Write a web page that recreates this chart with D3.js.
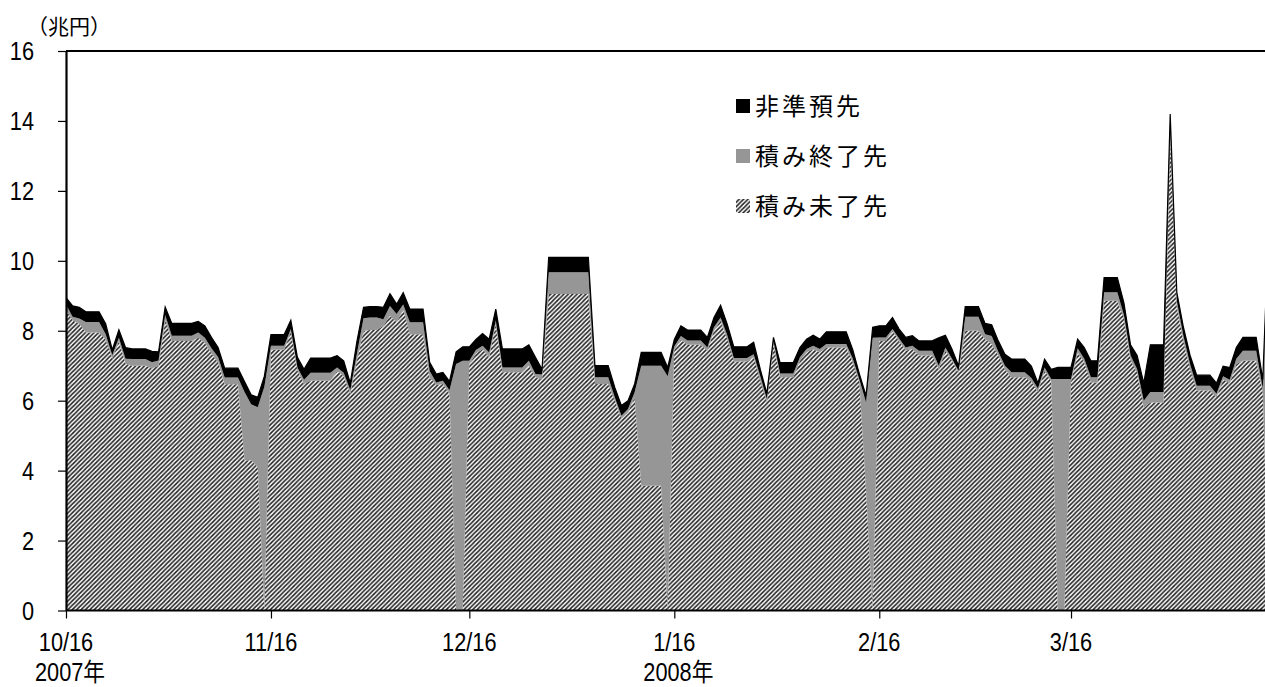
<!DOCTYPE html>
<html>
<head>
<meta charset="utf-8">
<script src="https://cdn.jsdelivr.net/npm/d3@7"></script>
<style>
  body { margin: 0; background: #fff; }
  svg { display: block; }
  text { font-family: "Noto Sans CJK JP", "Noto Sans", sans-serif; fill: #000; }
  text.num { font-family: "Liberation Sans", "Noto Sans CJK JP", sans-serif; }
</style>
</head>
<body>
<svg id="chart" width="1265" height="687"></svg>
<script>
// Daily reserve balances by type of institution (trillion yen), 2007/10/16 - 2008/4/15
const startDate = "2007-10-16";
const endDate = "2008-04-15";

// 積み未了先 : institutions that have not yet met their reserve requirement
const mikanryo = [
  8.6, 8.3, 8.2, 7.95, 7.95, 7.95, 7.75, 7.2, 7.7, 7.06,
  7.0, 7.0, 7.0, 6.92, 7.0, 8.3, 7.71, 7.71, 7.71, 7.71,
  7.8, 7.65, 7.35, 7.1, 6.47, 6.47, 6.47, 4.3, 4.3, 4.1,
  0, 7.46, 7.46, 7.46, 7.98, 6.86, 6.48, 6.57, 6.57, 6.57,
  6.57, 6.85, 6.7, 6.2, 7.15, 7.99, 8.02, 8.02, 8.14, 8.43,
  8.24, 8.6, 7.9, 7.9, 7.9, 6.65, 6.45, 6.48, 6.2, 0,
  0, 7.05, 7.35, 7.48, 7.24, 8.19, 6.81, 6.81, 6.81, 6.81,
  7.0, 6.67, 6.6, 9.05, 9.05, 9.05, 9.05, 9.05, 9.05, 9.05,
  6.48, 6.48, 6.48, 6.0, 5.48, 5.67, 6.1, 3.57, 3.57, 3.57,
  3.57, 0, 7.45, 7.75, 7.6, 7.6, 7.6, 7.43, 8.0, 8.3,
  7.76, 7.12, 7.12, 7.12, 7.24, 6.55, 5.95, 7.62, 6.67, 6.67,
  6.67, 7.14, 7.38, 7.48, 7.38, 7.52, 7.52, 7.52, 7.52, 7.1,
  6.5, 3.4, 0, 7.71, 7.71, 8.0, 7.7, 7.43, 7.48, 7.29,
  7.29, 7.29, 6.9, 7.43, 7.14, 6.8, 8.0, 8.0, 8.0, 7.76,
  7.62, 7.3, 6.9, 6.67, 6.67, 6.67, 6.55, 6.25, 6.86, 6.55,
  0, 0, 6.55, 7.38, 7.1, 6.52, 6.52, 8.86, 8.86, 8.86,
  8.35, 7.15, 6.8, 5.8, 5.95, 5.95, 5.95, 13.5, 8.7, 7.7,
  6.9, 6.29, 6.29, 6.29, 6.1, 6.6, 6.5, 7.05, 7.14, 7.14,
  7.14, 6.25, 0
];

// 積み終了先 : institutions that have already met their requirement
const shuryo = [
  0.15, 0.1, 0.15, 0.3, 0.3, 0.3, 0.15, 0.1, 0.1, 0.14,
  0.19, 0.19, 0.19, 0.18, 0.15, 0.15, 0.15, 0.15, 0.15, 0.15,
  0.15, 0.15, 0.15, 0.15, 0.19, 0.19, 0.19, 1.95, 1.6, 1.71,
  6.4, 0.11, 0.11, 0.11, 0.07, 0.09, 0.12, 0.23, 0.23, 0.23,
  0.23, 0.1, 0.1, 0.1, 0.2, 0.37, 0.36, 0.36, 0.19, 0.28,
  0.24, 0.15, 0.34, 0.34, 0.34, 0.2, 0.07, 0.09, 0.1, 7.05,
  7.14, 0.09, 0.1, 0.09, 0.14, 0.1, 0.14, 0.14, 0.14, 0.14,
  0.14, 0.09, 0.15, 0.62, 0.62, 0.62, 0.62, 0.62, 0.62, 0.62,
  0.19, 0.19, 0.19, 0.1, 0.09, 0.09, 0.14, 3.43, 3.43, 3.43,
  3.43, 6.7, 0.1, 0.1, 0.12, 0.12, 0.12, 0.09, 0.1, 0.08,
  0.12, 0.1, 0.1, 0.1, 0.09, 0.15, 0.1, 0.08, 0.11, 0.11,
  0.11, 0.1, 0.1, 0.09, 0.1, 0.1, 0.1, 0.1, 0.1, 0.1,
  0.1, 2.55, 7.8, 0.1, 0.1, 0.05, 0.08, 0.09, 0.09, 0.14,
  0.14, 0.14, 0.1, 0.09, 0.06, 0.05, 0.4, 0.4, 0.4, 0.14,
  0.23, 0.1, 0.1, 0.14, 0.14, 0.14, 0.1, 0.1, 0.09, 0.07,
  6.62, 6.62, 0.07, 0.12, 0.1, 0.15, 0.15, 0.24, 0.24, 0.24,
  0.1, 0.15, 0.1, 0.2, 0.3, 0.3, 0.3, 0.4, 0.15, 0.15,
  0.15, 0.14, 0.14, 0.14, 0.1, 0.1, 0.1, 0.15, 0.29, 0.29,
  0.29, 0.1, 11.2
];

// 非準預先 : institutions outside the reserve requirement system
const hijunyo = [
  0.2, 0.31, 0.32, 0.29, 0.29, 0.29, 0.3, 0.15, 0.23, 0.32,
  0.29, 0.29, 0.29, 0.31, 0.25, 0.23, 0.35, 0.35, 0.35, 0.35,
  0.32, 0.34, 0.31, 0.27, 0.27, 0.27, 0.27, 0.3, 0.27, 0.29,
  0.3, 0.32, 0.32, 0.32, 0.25, 0.29, 0.3, 0.42, 0.42, 0.42,
  0.42, 0.34, 0.34, 0.2, 0.35, 0.31, 0.31, 0.31, 0.34, 0.35,
  0.28, 0.34, 0.38, 0.38, 0.38, 0.25, 0.24, 0.24, 0.25, 0.35,
  0.4, 0.4, 0.3, 0.35, 0.38, 0.33, 0.53, 0.53, 0.53, 0.53,
  0.46, 0.48, 0.15, 0.43, 0.43, 0.43, 0.43, 0.43, 0.43, 0.43,
  0.33, 0.33, 0.33, 0.28, 0.29, 0.24, 0.24, 0.38, 0.38, 0.38,
  0.38, 0.25, 0.2, 0.29, 0.3, 0.3, 0.3, 0.29, 0.28, 0.35,
  0.31, 0.32, 0.32, 0.32, 0.34, 0.2, 0.15, 0.11, 0.31, 0.31,
  0.31, 0.28, 0.28, 0.3, 0.28, 0.35, 0.35, 0.35, 0.35, 0.25,
  0.16, 0.19, 0.3, 0.33, 0.33, 0.33, 0.27, 0.29, 0.29, 0.28,
  0.28, 0.28, 0.8, 0.35, 0.27, 0.14, 0.29, 0.29, 0.29, 0.31,
  0.32, 0.31, 0.33, 0.38, 0.38, 0.38, 0.34, 0.15, 0.24, 0.28,
  0.33, 0.33, 0.33, 0.26, 0.32, 0.47, 0.47, 0.42, 0.42, 0.42,
  0.35, 0.3, 0.39, 0.5, 1.35, 1.35, 1.35, 0.3, 0.25, 0.25,
  0.25, 0.3, 0.3, 0.3, 0.3, 0.29, 0.35, 0.32, 0.38, 0.38,
  0.38, 0.25, 0.3
];

const seriesKeys = ["mikanryo", "shuryo", "hijunyo"];
const legendLabels = ["非準預先", "積み終了先", "積み未了先"];
const yTicks = [0, 2, 4, 6, 8, 10, 12, 14, 16];
const xTickDates = ["2007-10-16", "2007-11-16", "2007-12-16", "2008-01-16", "2008-02-16", "2008-03-16"];
const xTickLabels = ["10/16", "11/16", "12/16", "1/16", "2/16", "3/16"];
const yearDates = ["2007-10-16", "2008-01-16"];
const yearLabels = ["2007年", "2008年"];
const unitLabel = "（兆円）";

const parse = d3.utcParse("%Y-%m-%d");
const days = d3.utcDay.range(parse(startDate), d3.utcDay.offset(parse(endDate), 1));
const rows = days.map((date, i) => ({
  date,
  mikanryo: mikanryo[i],
  shuryo: shuryo[i],
  hijunyo: hijunyo[i]
}));

const svg = d3.select("#chart");
const plotLeft = 66, plotTop = 51, plotBottom = 610.5;
const pxPerDay = 6.612;
const plotRight = plotLeft + pxPerDay * (days.length - 1);
const labelSize = 25, labelSqueeze = 0.87;

const x = d3.scaleUtc().domain([days[0], days[days.length - 1]]).range([plotLeft, plotRight]);
const y = d3.scaleLinear().domain([0, 16]).range([plotBottom, plotTop]);

const defs = svg.append("defs");
const hatch = defs.append("pattern")
  .attr("id", "hatch")
  .attr("patternUnits", "userSpaceOnUse")
  .attr("width", 4.4).attr("height", 4.4);
hatch.append("rect").attr("width", 4.4).attr("height", 4.4).attr("fill", "#fff");
hatch.append("path")
  .attr("d", "M0,4.4 L4.4,0 M-1.1,1.1 L1.1,-1.1 M3.3,5.5 L5.5,3.3")
  .attr("stroke", "#222").attr("stroke-width", 1.6);

defs.append("clipPath").attr("id", "plotClip")
  .append("rect").attr("x", plotLeft).attr("y", plotTop - 2)
  .attr("width", plotRight - plotLeft).attr("height", plotBottom - plotTop + 2);

const stack = d3.stack().keys(seriesKeys);
const layers = stack(rows);
const fills = { mikanryo: "url(#hatch)", shuryo: "#969696", hijunyo: "#000" };

const area = d3.area()
  .x(d => x(d.data.date))
  .y0(d => y(d[0]))
  .y1(d => y(d[1]));

const plot = svg.append("g").attr("clip-path", "url(#plotClip)");
plot.selectAll("path.layer")
  .data(layers)
  .join("path")
  .attr("class", "layer")
  .attr("fill", d => fills[d.key])
  .attr("d", area);

// thin outline along the total
plot.append("path")
  .datum(layers[layers.length - 1])
  .attr("fill", "none")
  .attr("stroke", "#000")
  .attr("stroke-width", 1.2)
  .attr("d", d3.line().x(d => x(d.data.date)).y(d => y(d[1])));

// frame: top border
svg.append("line")
  .attr("x1", plotLeft).attr("x2", 1265)
  .attr("y1", plotTop).attr("y2", plotTop)
  .attr("stroke", "#000").attr("stroke-width", 2);

// y axis
const yAxis = svg.append("g")
  .attr("transform", `translate(${plotLeft},0)`)
  .call(d3.axisLeft(y).tickValues(yTicks).tickSize(8).tickSizeOuter(0).tickFormat(""));
yAxis.select(".domain").attr("stroke-width", 2.2);
yAxis.selectAll(".tick line").attr("stroke-width", 1.2);

svg.append("g").selectAll("text")
  .data(yTicks)
  .join("text")
  .attr("class", "num")
  .attr("transform", v => `translate(34,${y(v) + 9}) scale(${labelSqueeze},1)`)
  .attr("text-anchor", "end")
  .style("font-size", `${labelSize}px`)
  .text(v => v);

// x axis
const xAxis = svg.append("g")
  .attr("transform", `translate(0,${plotBottom})`)
  .call(d3.axisBottom(x).tickValues(xTickDates.map(parse)).tickSize(8).tickSizeOuter(0).tickFormat(""));
xAxis.select(".domain").attr("stroke-width", 1.8).attr("d", `M${plotLeft},0H1265`);
xAxis.selectAll(".tick line").attr("stroke-width", 1.2);

svg.append("g").selectAll("text")
  .data(xTickDates)
  .join("text")
  .attr("class", "num")
  .attr("transform", d => `translate(${x(parse(d))},651) scale(${labelSqueeze},1)`)
  .attr("text-anchor", "middle")
  .style("font-size", `${labelSize}px`)
  .text((d, i) => xTickLabels[i]);

svg.append("g").selectAll("text")
  .data(yearDates)
  .join("text")
  .attr("class", "num")
  .attr("transform", d => `translate(${x(parse(d)) - 31},681) scale(${labelSqueeze},1)`)
  .attr("text-anchor", "start")
  .style("font-size", `${labelSize}px`)
  .text((d, i) => yearLabels[i]);

// unit label
svg.append("text")
  .attr("x", 27).attr("y", 34)
  .style("font-size", "21px")
  .text(unitLabel);

// legend
const legendFills = ["#000", "#969696", "url(#hatch)"];
const legend = svg.append("g").attr("transform", "translate(736,0)");
legendLabels.forEach((name, i) => {
  const cy = 106 + i * 50;
  legend.append("rect")
    .attr("x", 0).attr("y", cy - 7)
    .attr("width", 14).attr("height", 14)
    .attr("fill", legendFills[i]);
  legend.append("text")
    .attr("x", 19).attr("y", cy + 9)
    .style("font-size", "24px")
    .style("letter-spacing", "3px")
    .text(name);
});
</script>
</body>
</html>
